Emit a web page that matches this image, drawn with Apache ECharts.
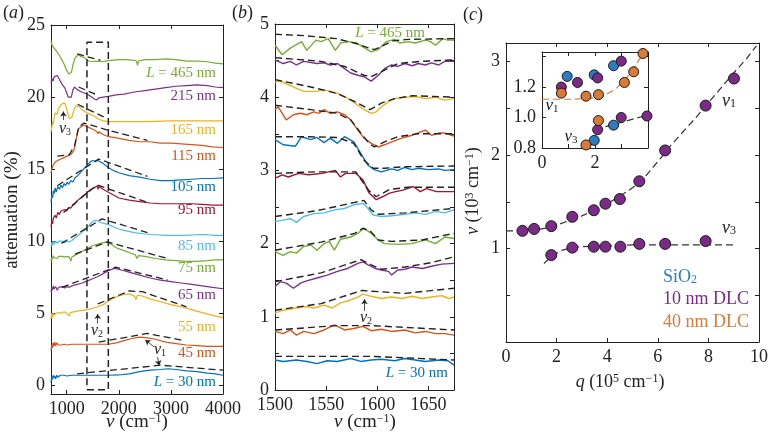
<!DOCTYPE html>
<html>
<head>
<meta charset="utf-8">
<script src="https://cdn.jsdelivr.net/npm/echarts@6/dist/echarts.min.js"></script>
<style>
  html, body { margin: 0; padding: 0; background: #fff; }
  #chart { width: 771px; height: 440px; }
</style>
</head>
<body>
<div id="chart"></div>
<script>
// ---------- panel (a): attenuation spectra, offset per thickness ----------
const specA465 = [[700,23.9],[720,23.6],[740,23.7],[760,23.4],[780,23.5],[800,23.2],[830,23.3],[860,22.9],[890,22.8],[920,22.5],[950,22.3],[980,22.0],[1010,21.8],[1040,21.6],[1065,21.5],[1090,21.7],[1120,22.2],[1150,22.6],[1180,22.8],[1210,22.9],[1240,22.95],[1270,22.8],[1300,22.7],[1340,22.75],[1380,22.6],[1420,22.5],[1480,22.45],[1550,22.5],[1650,22.45],[1750,22.5],[1850,22.55],[2000,22.6],[2150,22.6],[2300,22.55],[2340,22.5],[2360,22.2],[2380,22.5],[2500,22.6],[2700,22.6],[2900,22.65],[3100,22.6],[3300,22.5],[3500,22.5],[3700,22.45],[3850,22.35],[4000,22.3]];
const specA215 = [[700,21.0],[720,21.3],[740,21.1],[760,21.4],[790,21.3],[820,21.5],[850,21.3],[880,21.1],[910,20.9],[940,20.8],[970,20.6],[1000,20.3],[1030,20.0],[1060,19.9],[1090,20.0],[1120,20.5],[1150,20.7],[1180,20.65],[1210,20.5],[1260,20.4],[1320,20.3],[1400,20.2],[1480,20.0],[1540,19.85],[1580,19.8],[1620,19.95],[1700,20.0],[1800,20.05],[1950,20.15],[2100,20.2],[2300,20.35],[2500,20.45],[2700,20.55],[2900,20.65],[3100,20.75],[3300,20.8],[3500,20.85],[3700,20.8],[3850,20.7],[4000,20.65]];
const specA165 = [[700,17.6],[715,17.9],[730,18.3],[745,18.1],[760,18.6],[780,18.9],[800,19.0],[820,18.8],[840,19.2],[870,19.3],[900,19.5],[930,19.6],[960,19.6],[990,19.3],[1020,18.9],[1050,18.5],[1070,18.4],[1100,18.6],[1140,19.1],[1180,19.4],[1210,19.45],[1250,19.3],[1300,19.1],[1350,19.0],[1400,18.9],[1450,18.8],[1520,18.7],[1600,18.5],[1700,18.35],[1800,18.3],[2000,18.3],[2300,18.3],[2600,18.3],[3000,18.35],[3400,18.35],[3700,18.35],[4000,18.35]];
const specA115 = [[700,14.7],[715,15.0],[730,14.9],[745,15.3],[760,15.2],[780,15.5],[800,15.4],[830,15.6],[860,15.5],[890,15.7],[920,15.6],[950,15.8],[980,15.75],[1010,15.9],[1040,15.8],[1080,16.0],[1110,16.1],[1140,16.3],[1170,16.8],[1200,17.4],[1230,17.8],[1260,17.9],[1300,18.0],[1340,18.05],[1380,17.95],[1420,17.9],[1480,17.8],[1540,17.7],[1580,17.6],[1600,17.45],[1620,17.6],[1700,17.4],[1800,17.25],[1900,17.2],[2050,17.1],[2200,17.0],[2400,16.9],[2600,16.9],[2800,16.8],[3000,16.8],[3200,16.75],[3400,16.7],[3600,16.65],[3800,16.55],[4000,16.5]];
const specA105 = [[700,12.7],[715,13.2],[730,13.0],[745,13.5],[760,13.3],[780,13.7],[800,13.4],[830,13.8],[860,13.6],[890,13.9],[920,13.7],[950,14.0],[980,13.85],[1010,14.1],[1040,13.95],[1080,14.2],[1120,14.1],[1160,14.4],[1200,14.5],[1250,14.7],[1300,14.9],[1350,15.1],[1400,15.3],[1450,15.5],[1500,15.6],[1560,15.55],[1600,15.6],[1650,15.5],[1700,15.4],[1800,15.1],[1900,14.9],[2000,14.75],[2200,14.55],[2400,14.45],[2600,14.3],[2800,14.2],[3000,14.2],[3200,14.25],[3400,14.3],[3600,14.35],[3800,14.35],[4000,14.4]];
const specA95 = [[700,11.0],[715,11.4],[730,11.2],[745,11.6],[760,11.5],[780,11.8],[800,11.6],[830,12.0],[860,11.85],[890,12.1],[920,12.0],[960,12.2],[1000,12.1],[1040,12.35],[1080,12.3],[1120,12.5],[1160,12.6],[1200,12.8],[1250,12.95],[1300,13.1],[1350,13.25],[1400,13.4],[1450,13.55],[1500,13.65],[1550,13.75],[1590,13.85],[1600,13.6],[1620,13.8],[1700,13.6],[1800,13.4],[1900,13.2],[2000,13.0],[2200,12.85],[2400,12.75],[2600,12.65],[2800,12.6],[3000,12.6],[3200,12.6],[3400,12.6],[3600,12.55],[3800,12.5],[4000,12.5]];
const specA85 = [[700,9.6],[715,9.9],[730,9.7],[745,10.0],[760,9.8],[790,10.0],[820,9.85],[850,10.0],[880,9.9],[920,10.0],[960,9.9],[1000,10.0],[1050,9.95],[1100,10.05],[1150,10.2],[1200,10.35],[1250,10.5],[1300,10.65],[1350,10.8],[1400,10.95],[1450,11.2],[1500,11.35],[1550,11.45],[1600,11.4],[1650,11.3],[1700,11.25],[1800,11.15],[1900,11.0],[2000,10.85],[2100,10.75],[2300,10.6],[2500,10.5],[2700,10.45],[2900,10.4],[3100,10.4],[3300,10.4],[3500,10.45],[3700,10.45],[3850,10.4],[4000,10.4]];
const specA75 = [[700,8.6],[715,8.9],[730,8.75],[745,9.0],[760,8.85],[790,8.95],[820,8.8],[850,8.95],[880,8.85],[920,8.95],[960,8.9],[1000,8.95],[1050,8.9],[1080,8.6],[1100,8.9],[1150,9.0],[1200,9.1],[1250,9.2],[1300,9.3],[1350,9.4],[1400,9.5],[1450,9.6],[1500,9.7],[1600,9.8],[1700,9.9],[1780,9.95],[1850,9.8],[1950,9.55],[2100,9.35],[2250,9.15],[2320,9.05],[2350,8.8],[2380,9.0],[2500,8.95],[2700,8.8],[2900,8.7],[3100,8.65],[3300,8.6],[3500,8.6],[3700,8.65],[3850,8.7],[4000,8.7]];
const specA65 = [[700,6.5],[715,6.8],[730,6.6],[745,6.9],[760,6.7],[790,6.85],[820,6.6],[850,6.8],[880,6.7],[920,6.85],[960,6.75],[1000,6.85],[1050,6.8],[1100,6.9],[1150,6.95],[1200,7.0],[1250,7.05],[1300,7.1],[1400,7.25],[1500,7.4],[1600,7.55],[1700,7.75],[1800,7.95],[1900,8.1],[1950,8.1],[2050,8.0],[2200,7.85],[2400,7.65],[2600,7.45],[2800,7.3],[3000,7.2],[3200,7.1],[3400,7.0],[3600,6.9],[3800,6.8],[4000,6.7]];
const specA55 = [[700,4.6],[712,5.0],[725,4.7],[740,5.0],[760,4.85],[790,5.0],[820,4.9],[860,5.05],[900,5.0],[950,5.1],[1000,5.0],[1050,4.8],[1070,5.05],[1100,5.1],[1200,5.15],[1300,5.2],[1400,5.25],[1500,5.35],[1600,5.45],[1700,5.6],[1800,5.85],[1900,6.05],[2000,6.2],[2100,6.3],[2200,6.35],[2300,6.2],[2330,5.95],[2360,6.25],[2450,6.2],[2600,6.0],[2800,5.8],[3000,5.6],[3200,5.45],[3400,5.25],[3600,5.05],[3800,4.85],[4000,4.7]];
const specA45 = [[700,2.4],[712,2.8],[725,2.6],[740,2.95],[755,2.7],[770,3.0],[790,2.75],[810,2.95],[840,2.8],[870,2.9],[900,2.8],[950,2.85],[1000,2.8],[1100,2.85],[1200,2.85],[1400,2.85],[1600,2.85],[1800,2.85],[1950,2.95],[2100,3.1],[2250,3.25],[2400,3.35],[2550,3.3],[2700,3.2],[2900,3.0],[3100,2.9],[3300,2.8],[3500,2.75],[3700,2.7],[3850,2.7],[4000,2.7]];
const specA30 = [[700,0.2],[712,0.55],[725,0.4],[740,0.7],[755,0.5],[770,0.65],[790,0.45],[810,0.7],[840,0.55],[870,0.7],[900,0.6],[950,0.7],[1000,0.65],[1100,0.7],[1200,0.7],[1400,0.7],[1600,0.7],[1800,0.7],[2000,0.72],[2200,0.8],[2400,0.95],[2600,1.05],[2800,1.1],[2950,1.15],[3100,1.1],[3300,1.0],[3500,0.95],[3700,0.85],[3850,0.8],[4000,0.7]];

// dashed model curves in (a)
const fitA465 = [[1200,23.0],[1650,22.55]];
const fitA215 = [[1230,20.7],[1550,20.2]];
const fitA165 = [[1210,19.5],[1780,18.5]];
const fitA115 = [[820,15.9],[1050,16.0],[1150,16.6],[1230,17.9],[1330,18.2],[1800,17.7],[2550,17.0]];
const fitA105 = [[820,13.85],[1615,15.7],[2550,14.5]];
const fitA95 = [[940,12.0],[1585,13.9],[2550,12.7]];
const fitA85 = [[900,9.85],[1680,11.55],[2550,10.6]];
const fitA75 = [[1160,9.1],[1780,9.95],[2940,8.8]];
const fitA65 = [[910,6.8],[1940,8.2],[2940,7.3]];
const fitA55 = [[1600,5.65],[2200,6.55],[2450,6.5],[3300,5.45]];
const fitA45 = [[1615,3.0],[2550,3.6],[3260,3.1]];
const fitA30 = [[1200,0.8],[2800,1.4],[4000,1.05]];
const boxA = [[1390,-0.3],[1800,-0.3],[1800,23.8],[1390,23.8],[1390,-0.3]];

const labelsA = ['{i|L} = 465 nm','215 nm','165 nm','115 nm','105 nm','95 nm','85 nm','75 nm','65 nm','55 nm','45 nm','{i|L} = 30 nm'];

// ---------- panel (b): zoom 1500-1675 cm-1 ----------
const specB465 = [[1500,4.71],[1507,4.58],[1515,4.67],[1526,4.76],[1531,4.64],[1540,4.78],[1545,4.76],[1552,4.80],[1559,4.64],[1564,4.74],[1572,4.76],[1580,4.74],[1588,4.67],[1594,4.62],[1601,4.65],[1609,4.76],[1617,4.79],[1622,4.74],[1630,4.76],[1637,4.74],[1647,4.78],[1652,4.76],[1657,4.71],[1664,4.80],[1669,4.78],[1675,4.78]];
const specB215 = [[1500,4.51],[1508,4.46],[1515,4.49],[1521,4.44],[1528,4.49],[1541,4.46],[1548,4.47],[1554,4.44],[1561,4.46],[1568,4.39],[1574,4.33],[1581,4.30],[1587,4.28],[1594,4.22],[1601,4.30],[1607,4.39],[1614,4.44],[1620,4.42],[1627,4.46],[1634,4.43],[1640,4.46],[1647,4.44],[1653,4.47],[1660,4.44],[1666,4.49],[1675,4.49]];
const specB165 = [[1500,4.21],[1505,4.22],[1515,4.16],[1521,4.12],[1528,4.08],[1541,4.08],[1548,4.10],[1554,4.08],[1561,4.05],[1568,4.01],[1574,3.96],[1581,3.89],[1587,3.83],[1594,3.78],[1599,3.80],[1604,3.87],[1611,3.94],[1617,3.98],[1627,4.00],[1637,4.01],[1647,3.98],[1657,4.00],[1666,3.96],[1675,3.98]];
const specB115 = [[1500,3.83],[1503,3.87],[1511,3.69],[1518,3.76],[1525,3.78],[1531,3.76],[1538,3.80],[1543,3.78],[1548,3.83],[1554,3.78],[1561,3.80],[1568,3.76],[1574,3.69],[1581,3.55],[1587,3.44],[1594,3.37],[1601,3.32],[1607,3.35],[1614,3.39],[1624,3.44],[1634,3.48],[1647,3.55],[1653,3.48],[1660,3.51],[1666,3.51],[1675,3.47]];
const specB105 = [[1500,3.42],[1508,3.35],[1520,3.33],[1526,3.46],[1535,3.42],[1541,3.45],[1548,3.38],[1554,3.44],[1561,3.37],[1568,3.46],[1577,3.39],[1584,3.23],[1591,3.07],[1597,3.01],[1604,2.98],[1614,3.02],[1620,3.00],[1627,3.04],[1634,3.01],[1640,3.03],[1650,3.01],[1660,3.02],[1666,3.00],[1675,3.01]];
const specB95 = [[1500,2.89],[1507,2.94],[1513,2.91],[1523,2.96],[1533,2.94],[1546,2.96],[1559,3.00],[1564,2.91],[1569,2.96],[1579,2.96],[1586,2.87],[1592,2.69],[1599,2.60],[1605,2.64],[1612,2.69],[1618,2.71],[1625,2.73],[1635,2.78],[1642,2.71],[1648,2.75],[1658,2.71],[1675,2.71]];
const specB85 = [[1500,2.30],[1508,2.32],[1515,2.34],[1521,2.29],[1528,2.37],[1538,2.41],[1548,2.42],[1558,2.46],[1568,2.48],[1577,2.53],[1586,2.55],[1591,2.48],[1596,2.39],[1604,2.37],[1614,2.38],[1627,2.40],[1637,2.42],[1647,2.40],[1657,2.44],[1666,2.42],[1675,2.46]];
const specB75 = [[1500,1.89],[1508,1.84],[1515,1.89],[1521,1.87],[1528,1.96],[1535,1.98],[1541,1.91],[1548,2.00],[1553,2.03],[1558,1.91],[1564,2.06],[1574,2.09],[1581,2.14],[1587,2.21],[1594,2.14],[1601,2.05],[1607,2.00],[1620,1.99],[1634,2.00],[1647,2.05],[1657,2.00],[1666,2.09],[1675,2.07]];
const specB65 = [[1500,1.41],[1505,1.48],[1511,1.46],[1518,1.39],[1525,1.46],[1531,1.49],[1541,1.53],[1551,1.57],[1561,1.62],[1571,1.66],[1581,1.73],[1586,1.75],[1591,1.71],[1598,1.66],[1604,1.64],[1611,1.62],[1614,1.57],[1620,1.64],[1627,1.65],[1634,1.68],[1644,1.66],[1653,1.69],[1663,1.72],[1675,1.73]];
const specB55 = [[1500,1.05],[1508,1.09],[1521,1.12],[1531,1.14],[1538,1.12],[1548,1.16],[1556,1.12],[1564,1.19],[1574,1.23],[1581,1.27],[1586,1.31],[1594,1.28],[1604,1.25],[1614,1.27],[1624,1.25],[1634,1.28],[1644,1.25],[1653,1.27],[1663,1.29],[1670,1.25],[1675,1.27]];
const specB45 = [[1500,0.80],[1508,0.77],[1515,0.82],[1521,0.75],[1528,0.80],[1538,0.77],[1548,0.82],[1558,0.89],[1568,0.82],[1577,0.84],[1586,0.87],[1594,0.81],[1604,0.83],[1614,0.80],[1627,0.82],[1637,0.78],[1647,0.80],[1657,0.77],[1666,0.77],[1675,0.75]];
const specB30 = [[1500,0.41],[1508,0.39],[1521,0.41],[1531,0.39],[1541,0.36],[1551,0.40],[1561,0.39],[1574,0.43],[1584,0.39],[1594,0.41],[1604,0.42],[1617,0.40],[1627,0.43],[1637,0.41],[1647,0.39],[1660,0.41],[1669,0.40],[1675,0.34]];

const fitB465 = [[1500,4.86],[1530,4.84],[1560,4.80],[1580,4.73],[1590,4.68],[1597,4.65],[1605,4.70],[1615,4.77],[1630,4.79],[1675,4.80]];
const fitB215 = [[1500,4.54],[1545,4.49],[1568,4.42],[1587,4.30],[1594,4.28],[1607,4.37],[1620,4.46],[1643,4.49],[1675,4.51]];
const fitB165 = [[1500,4.24],[1535,4.14],[1561,4.05],[1581,3.92],[1593,3.83],[1604,3.92],[1617,3.98],[1634,4.02],[1675,4.00]];
const fitB115 = [[1500,3.89],[1535,3.83],[1561,3.78],[1574,3.69],[1584,3.51],[1592,3.37],[1597,3.32],[1607,3.39],[1620,3.46],[1640,3.50],[1675,3.50]];
const fitB105 = [[1500,3.46],[1533,3.46],[1561,3.45],[1577,3.37],[1587,3.14],[1596,3.03],[1607,3.03],[1627,3.05],[1675,3.06]];
const fitB95 = [[1500,2.96],[1540,2.98],[1579,2.98],[1592,2.72],[1599,2.64],[1612,2.74],[1630,2.77],[1675,2.77]];
const fitB85 = [[1500,2.37],[1541,2.45],[1577,2.56],[1587,2.59],[1594,2.46],[1601,2.40],[1627,2.42],[1675,2.48]];
const fitB75 = [[1500,1.91],[1545,2.02],[1578,2.14],[1586,2.21],[1594,2.16],[1601,2.05],[1614,2.03],[1644,2.05],[1675,2.14]];
const fitB65 = [[1500,1.48],[1545,1.60],[1584,1.78],[1594,1.71],[1604,1.65],[1627,1.68],[1653,1.74],[1675,1.82]];
const fitB55 = [[1500,1.09],[1545,1.18],[1585,1.36],[1594,1.35],[1627,1.32],[1675,1.39]];
const fitB45 = [[1500,0.82],[1561,0.88],[1594,0.88],[1675,0.82]];
const fitB30 = [[1500,0.46],[1594,0.46],[1675,0.41]];

// ---------- panel (c): dispersion ----------
const cV1 = [[0.65,1.19],[1.11,1.21],[1.79,1.24],[2.62,1.34],[3.47,1.41],[3.93,1.48],[4.50,1.53],[5.27,1.72],[6.29,2.05],[7.89,2.53],[9.01,2.82]];
const cV3 = [[1.79,0.93],[2.62,1.01],[3.47,1.02],[3.93,1.02],[4.52,1.02],[5.27,1.05],[6.29,1.05],[7.89,1.08]];
const cFitV1 = [[0,1.19],[0.7,1.19],[1.2,1.2],[1.8,1.23],[2.4,1.29],[3.0,1.35],[3.5,1.41],[4.0,1.48],[4.5,1.56],[5.0,1.65],[5.5,1.77],[6.0,1.93],[6.5,2.1],[7.0,2.25],[7.5,2.4],[8.0,2.56],[8.5,2.72],[9.0,2.88],[9.5,3.03],[9.9,3.17]];
const cFitV3 = [[1.5,0.84],[1.8,0.92],[2.2,0.98],[2.6,1.01],[3.0,1.02],[4.0,1.03],[5.0,1.04],[6.0,1.04],[7.0,1.04],[8.0,1.04],[9.0,1.04]];

// inset
const insSiO2 = [[0.95,1.27],[1.97,1.28],[2.70,1.34],[2.70,0.95],[1.97,0.85]];
const insDLC10 = [[0.73,1.20],[1.34,1.23],[2.10,1.26],[2.99,1.37],[3.96,1.01],[2.99,1.00],[2.10,0.92]];
const insDLC40 = [[0.73,1.16],[1.66,1.14],[2.13,1.15],[3.11,1.23],[3.46,1.30],[3.81,1.42],[2.13,0.98],[1.66,0.82]];
const insFit40 = [[0,1.12],[1.2,1.12],[2.2,1.13],[2.8,1.19],[3.3,1.28],[3.85,1.43]];
const insFitV3 = [[2.4,0.94],[3.96,1.015]];

// tick positions / labels
const ticksAx = [1000, 2000, 3000, 4000];
const ticksAy = [0, 5, 10, 15, 20, 25];
const ticksBx = [1500, 1550, 1600, 1650];
const labelsBy = [0, 1, 2, 3, 4, 5];
const ticksBy = [0, 0.5, 1, 1.5, 2, 2.5, 3, 3.5, 4, 4.5, 5];
const ticksCx = [0, 2, 4, 6, 8, 10];
const labelsCy = [1, 2, 3];
const ticksCy = [0, 0.5, 1, 1.5, 2, 2.5, 3];
const labelsInsX = [0, 2];
const ticksInsX = [0, 1, 2, 3, 4];
const labelsInsY = [0.8, 1.0, 1.2];
const ticksInsY = [0.8, 1.0, 1.2, 1.4];

// ---------- styling ----------
const SERIF = "'Liberation Serif', 'DejaVu Serif', serif";
const INK = '#222';
const BLUE = '#0072BD', ORANGE = '#D95319', YELLOW = '#EDB120', PURPLE = '#7E2F8E',
      GREEN = '#77AC30', LBLUE = '#4DBEEE', DRED = '#A2142F';
const MK_BLUE = '#2E7BC4', MK_PURPLE = '#7B2A88', MK_ORANGE = '#DA7A36';
const curveColors = [GREEN, PURPLE, YELLOW, ORANGE, BLUE, DRED, LBLUE, GREEN, PURPLE, YELLOW, ORANGE, BLUE];
const TICK_FONT = 18;

const specA = [specA465, specA215, specA165, specA115, specA105, specA95, specA85, specA75, specA65, specA55, specA45, specA30];
const fitA = [fitA465, fitA215, fitA165, fitA115, fitA105, fitA95, fitA85, fitA75, fitA65, fitA55, fitA45, fitA30];
const specB = [specB465, specB215, specB165, specB115, specB105, specB95, specB85, specB75, specB65, specB55, specB45, specB30];
const fitB = [fitB465, fitB215, fitB165, fitB115, fitB105, fitB95, fitB85, fitB75, fitB65, fitB55, fitB45, fitB30];

function rich(size) {
  return {
    i: { fontStyle: 'italic', fontFamily: SERIF, fontSize: size },
    sup: { fontFamily: SERIF, fontSize: Math.round(size * 0.65), verticalAlign: 'top' },
    sub: { fontFamily: SERIF, fontSize: Math.round(size * 0.65), verticalAlign: 'bottom' }
  };
}

function axis(grid, min, max, pos, labelVals, tickVals, fmt) {
  return {
    type: 'value', gridIndex: grid, min: min, max: max, position: pos,
    axisLine: { show: true, onZero: false, lineStyle: { color: INK, width: 1 } },
    axisTick: { show: true, inside: true, length: 4, customValues: tickVals, lineStyle: { color: INK } },
    axisLabel: {
      show: labelVals != null, customValues: labelVals || [], fontFamily: SERIF, fontSize: TICK_FONT,
      color: INK, margin: 6, formatter: fmt || (v => String(v))
    },
    splitLine: { show: false }
  };
}

function line(ax, data, color, width, dashed, z) {
  return {
    type: 'line', xAxisIndex: ax, yAxisIndex: ax, data: data, symbol: 'none', silent: true,
    lineStyle: { color: color, width: width, type: dashed ? [7, 4] : 'solid' }, z: z || 2
  };
}

function dots(ax, data, color, size) {
  return {
    type: 'scatter', xAxisIndex: ax, yAxisIndex: ax, data: data, symbolSize: size, silent: true,
    itemStyle: { color: color, borderColor: '#1a1a1a', borderWidth: 1, opacity: 1 }, z: 4
  };
}

function arrows(ax, pairs) {
  return {
    type: 'line', xAxisIndex: ax, yAxisIndex: ax, data: [], silent: true,
    markLine: {
      silent: true, symbol: ['none', 'arrow'], symbolSize: 5, animation: false,
      label: { show: false }, lineStyle: { color: INK, width: 0.8, type: 'solid' },
      data: pairs.map(p => [{ coord: p[0] }, { coord: p[1] }])
    }
  };
}

function txt(x, y, text, color, size, align, rot) {
  return {
    type: 'text', x: x, y: y, rotation: rot || 0, silent: true, z: 100,
    style: {
      text: text, fill: color || INK, fontFamily: SERIF, fontSize: size || 17,
      align: align || 'left', verticalAlign: 'middle', rich: rich(size || 17)
    }
  };
}

const series = [];
specA.forEach((d, k) => series.push(line(0, d, curveColors[k], 1.2, false, 2)));
fitA.forEach(d => series.push(line(0, d, INK, 1.3, true, 3)));
series.push(line(0, boxA, INK, 1.5, true, 3));
series.push(arrows(0, [
  [[938, 18.4], [938, 19.0]],
  [[1596, 4.3], [1596, 4.95]],
  [[2680, 2.66], [2510, 3.14]],
  [[2745, 1.96], [2775, 1.38]]
]));
specB.forEach((d, k) => series.push(line(2, d, curveColors[k], 1.4, false, 2)));
fitB.forEach(d => series.push(line(2, d, INK, 1.4, true, 3)));
series.push(arrows(2, [[[1587.5, 1.08], [1587.5, 1.24]]]));
series.push(line(4, cFitV1, '#333', 1.2, true, 3));
series.push(line(4, cFitV3, '#333', 1.2, true, 3));
series.push(dots(4, cV1, MK_PURPLE, 11));
series.push(dots(4, cV3, MK_PURPLE, 11));
series.push(line(6, insFit40, MK_ORANGE, 1.2, true, 3));
series.push(line(6, insFitV3, '#333', 1.2, true, 3));
series.push(dots(6, insSiO2, MK_BLUE, 10));
series.push(dots(6, insDLC10, MK_PURPLE, 10));
series.push(dots(6, insDLC40, MK_ORANGE, 10));

const labelYA = [72.7, 96, 130, 156, 187.3, 210, 246, 268.3, 295, 326.7, 353.3, 381.7];
const graphics = [
  txt(3, 13, '({i|a})', INK, 18),
  txt(232, 13, '({i|b})', INK, 18),
  txt(463, 15, '({i|c})', INK, 18),
  txt(12, 210, 'attenuation (%)', INK, 19, 'center', Math.PI / 2),
  txt(137, 422, '{i|ν} (cm{sup|−1})', INK, 19, 'center'),
  txt(365, 422, '{i|ν} (cm{sup|−1})', INK, 19, 'center'),
  txt(620, 382, '{i|q} (10{sup|5} cm{sup|−1})', INK, 18, 'center'),
  txt(473, 191, '{i|ν} (10{sup|3} cm{sup|−1})', INK, 18, 'center', Math.PI / 2),
  txt(65, 129, '{i|ν}{sub|3}', INK, 16, 'center'),
  txt(97, 331, '{i|ν}{sub|2}', INK, 16, 'center'),
  txt(160, 350, '{i|ν}{sub|1}', INK, 16, 'center'),
  txt(425, 33, '{i|L} = 465 nm', GREEN, 15, 'right'),
  txt(448, 373, '{i|L} = 30 nm', BLUE, 15, 'right'),
  txt(366, 318, '{i|ν}{sub|2}', INK, 16, 'center'),
  txt(729, 101, '{i|ν}{sub|1}', INK, 18, 'center'),
  txt(729, 228, '{i|ν}{sub|3}', INK, 18, 'center'),
  txt(552, 106, '{i|ν}{sub|1}', INK, 17, 'center'),
  txt(571, 137, '{i|ν}{sub|3}', INK, 17, 'center'),
  txt(663, 277, 'SiO{sub|2}', MK_BLUE, 18),
  txt(663, 299, '10 nm DLC', MK_PURPLE, 18),
  txt(663, 322, '40 nm DLC', MK_ORANGE, 18)
];
labelsA.forEach((t, k) => graphics.push(txt(216, labelYA[k], t, curveColors[k], 15, 'right')));

const option = {
  backgroundColor: '#fff',
  animation: false,
  grid: [
    { left: 51, top: 25, width: 172, height: 369 },
    { left: 275, top: 24, width: 179, height: 366 },
    { left: 506, top: 43, width: 255, height: 299 },
    { left: 542, top: 52, width: 106, height: 96, show: true, backgroundColor: '#fff', borderWidth: 0 }
  ],
  xAxis: [
    axis(0, 700, 4000, 'bottom', ticksAx, ticksAx),
    axis(0, 700, 4000, 'top', null, ticksAx),
    axis(1, 1500, 1675, 'bottom', ticksBx, ticksBx),
    axis(1, 1500, 1675, 'top', null, ticksBx),
    axis(2, 0, 10, 'bottom', ticksCx, ticksCx),
    axis(2, 0, 10, 'top', null, ticksCx),
    axis(3, 0, 4, 'bottom', labelsInsX, ticksInsX),
    axis(3, 0, 4, 'top', null, ticksInsX)
  ],
  yAxis: [
    axis(0, -0.6, 25, 'left', ticksAy, ticksAy),
    axis(0, -0.6, 25, 'right', null, ticksAy),
    axis(1, 0, 5, 'left', labelsBy, ticksBy),
    axis(1, 0, 5, 'right', null, ticksBy),
    axis(2, 0, 3.2, 'left', labelsCy, ticksCy),
    axis(2, 0, 3.2, 'right', null, ticksCy),
    axis(3, 0.8, 1.43, 'left', labelsInsY, ticksInsY, v => v.toFixed(1)),
    axis(3, 0.8, 1.43, 'right', null, ticksInsY)
  ],
  series: series,
  graphic: graphics
};

const chart = echarts.init(document.getElementById('chart'), null, { renderer: 'canvas' });
chart.setOption(option);
window.addEventListener('resize', function () { chart.resize(); });
</script>
</body>
</html>
